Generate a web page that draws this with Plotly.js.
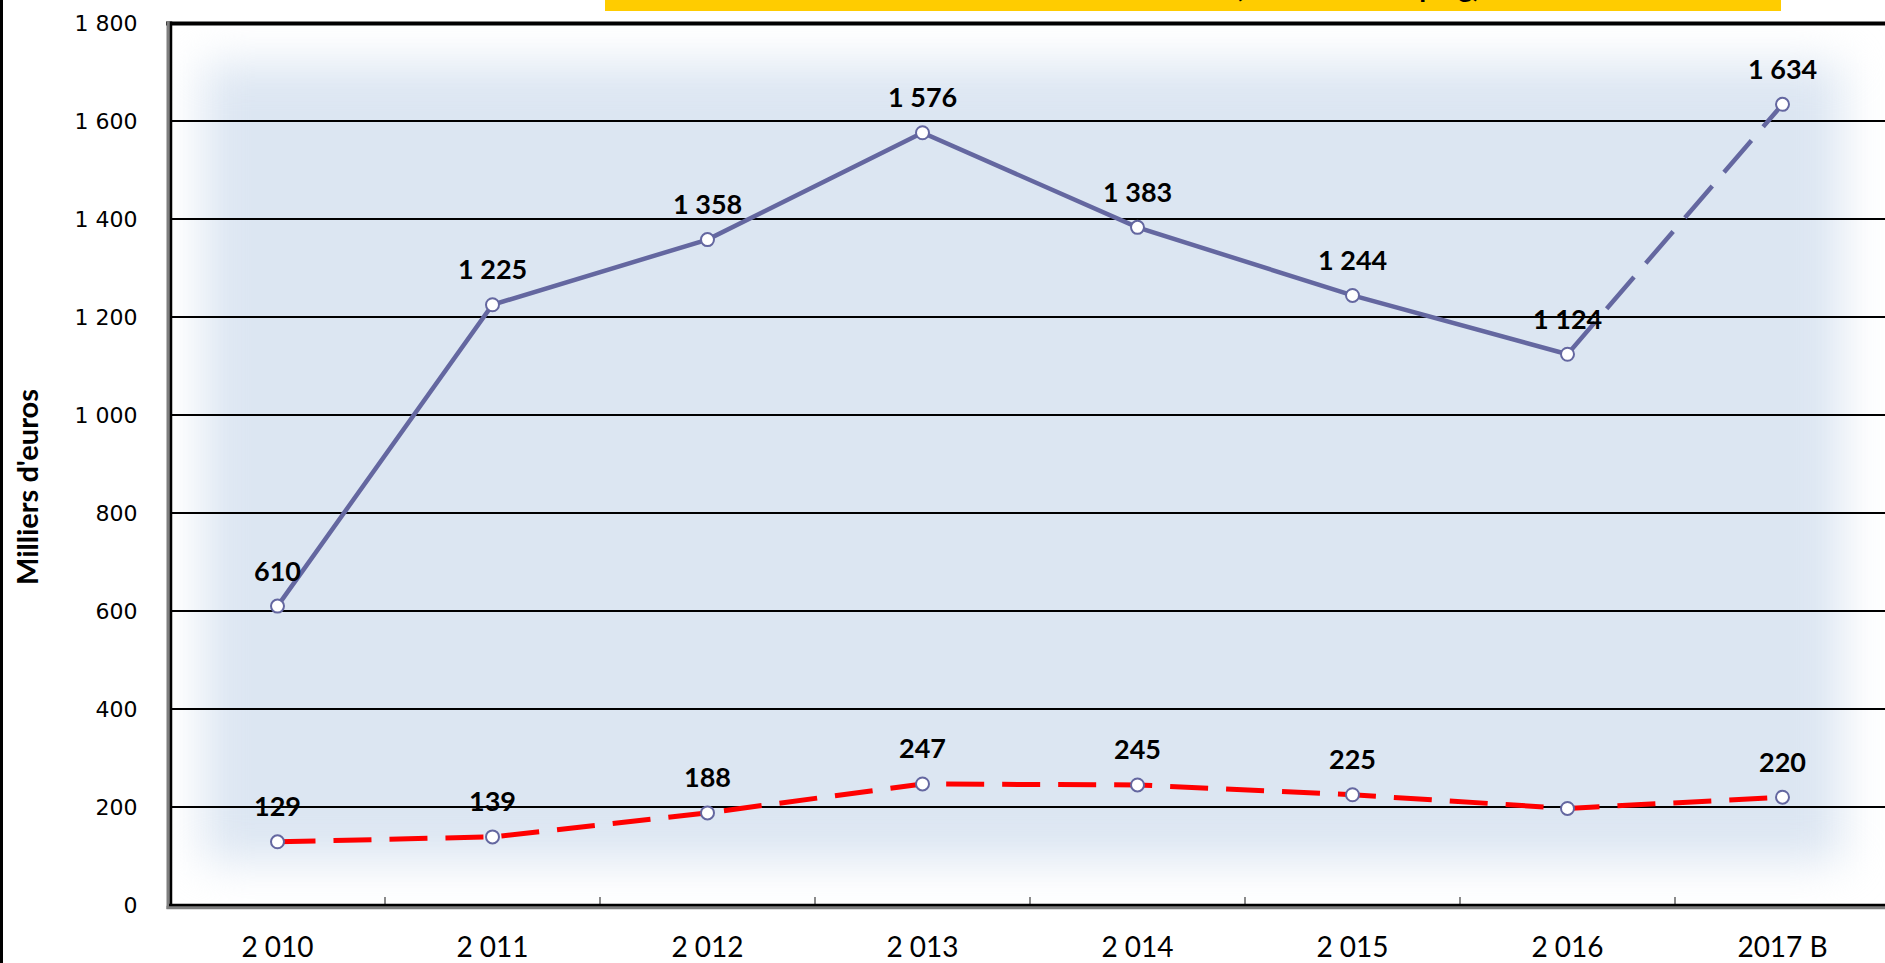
<!DOCTYPE html>
<html>
<head>
<meta charset="utf-8">
<script src="https://cdn.plot.ly/plotly-3.0.1.min.js"></script>
<style>html,body{margin:0;padding:0;background:#fff;overflow:hidden;}</style>
</head>
<body>
<div id="chart" style="width:1885px;height:963px;"></div>
<script>
// ---- data ----
const years = ['2 010', '2 011', '2 012', '2 013', '2 014', '2 015', '2 016', '2017 B'];
const blueValues = [610, 1225, 1358, 1576, 1383, 1244, 1124, 1634];
const redValues = [129, 139, 188, 247, 245, 225, 197, 220];
const redUnlabeled = ['2 016'];
const yAxisTitle = "Milliers d'euros";
const chartTitle = "Évolution des recettes (total hors camping)";

// ---- geometry helpers (pixel -> paper) ----
const W = 1885, H = 963, ML = 170, MR = 0, MT = 23, MB = 58;
const PW = W - ML - MR, PH = H - MT - MB;
const px = x => (x - ML) / PW;
const py = y => (H - MB - y) / PH;

const BLUE = 'rgb(100,103,160)';
const RED = '#ff0000';
const fmt = v => String(v).replace(/\B(?=(\d{3})+(?!\d))/g, ' ');

// soft blue background (blurred rectangle)
function makeBg() {
  const c = document.createElement('canvas');
  c.width = PW; c.height = PH;
  const ctx = c.getContext('2d');
  ctx.fillStyle = '#ffffff';
  ctx.fillRect(0, 0, PW, PH);
  ctx.filter = 'blur(22px)';
  ctx.fillStyle = '#DCE6F2';
  ctx.fillRect(33, 40, 1672 - 33, 839 - 40);
  return c.toDataURL('image/png');
}

const marker = {symbol: 'circle', size: 13, color: '#ffffff', line: {color: BLUE, width: 2}};

const traces = [
  {x: years.slice(0, 7), y: blueValues.slice(0, 7), type: 'scatter', mode: 'lines',
   line: {color: BLUE, width: 4.5}, hoverinfo: 'skip', showlegend: false},
  {x: years.slice(6), y: blueValues.slice(6), type: 'scatter', mode: 'lines',
   line: {color: BLUE, width: 4.5, dash: '42px,18px'}, hoverinfo: 'skip', showlegend: false},
  {x: years, y: redValues, type: 'scatter', mode: 'lines',
   line: {color: RED, width: 5, dash: '38px,18px'}, hoverinfo: 'skip', showlegend: false},
  {x: years, y: blueValues, type: 'scatter', mode: 'markers', marker: marker, showlegend: false},
  {x: years, y: redValues, type: 'scatter', mode: 'markers', marker: marker, showlegend: false}
];

const labelFont = {family: 'Lato', size: 27, color: '#000', weight: 'bold'};
const annotations = [];
years.forEach((yr, i) => {
  annotations.push({x: yr, y: blueValues[i], xref: 'x', yref: 'y', text: fmt(blueValues[i]),
    showarrow: false, yshift: 36, xanchor: 'center', yanchor: 'middle', font: labelFont});
  if (!redUnlabeled.includes(yr)) {
    annotations.push({x: yr, y: redValues[i], xref: 'x', yref: 'y', text: fmt(redValues[i]),
      showarrow: false, yshift: 36, xanchor: 'center', yanchor: 'middle', font: labelFont});
  }
});
annotations.push({x: px(26), y: py(487), xref: 'paper', yref: 'paper', text: yAxisTitle,
  textangle: -90, showarrow: false, xanchor: 'center', yanchor: 'middle',
  font: {family: 'Lato', size: 29, color: '#000', weight: 'bold'}});
annotations.push({x: px(1482), y: py(4), xref: 'paper', yref: 'paper', text: chartTitle,
  showarrow: false, xanchor: 'right', yanchor: 'bottom', borderpad: 0,
  font: {family: 'Lato', size: 28, color: '#000', weight: 'bold'}});

const shapes = [
  // yellow title box
  {type: 'rect', xref: 'paper', yref: 'paper', x0: px(605), x1: px(1781), y0: py(11), y1: py(-5),
   fillcolor: '#FFCC00', line: {width: 0}, layer: 'below'},
  // top border
  {type: 'line', xref: 'paper', yref: 'paper', x0: px(166), x1: px(W + 10), y0: py(23.5), y1: py(23.5),
   line: {color: '#000', width: 4}},
  // left border (double)
  {type: 'line', xref: 'paper', yref: 'paper', x0: px(168.5), x1: px(168.5), y0: py(21.5), y1: py(909),
   line: {color: '#7f7f7f', width: 4}},
  {type: 'line', xref: 'paper', yref: 'paper', x0: px(171), x1: px(171), y0: py(21.5), y1: py(906),
   line: {color: '#000', width: 2.5}},
  // bottom border (double)
  {type: 'line', xref: 'paper', yref: 'paper', x0: px(166.5), x1: px(W + 10), y0: py(907.5), y1: py(907.5),
   line: {color: '#7f7f7f', width: 3.5}},
  {type: 'line', xref: 'paper', yref: 'paper', x0: px(169), x1: px(W + 10), y0: py(905), y1: py(905),
   line: {color: '#000', width: 2.5}},
  // left edge of image
  {type: 'line', xref: 'paper', yref: 'paper', x0: px(1.5), x1: px(1.5), y0: py(-5), y1: py(H + 5),
   line: {color: '#000', width: 3}}
];

const layout = {
  width: W, height: H,
  margin: {l: ML, r: MR, t: MT, b: MB, pad: 0},
  paper_bgcolor: '#ffffff',
  plot_bgcolor: '#ffffff',
  separators: ', ',
  showlegend: false,
  xaxis: {
    type: 'category', range: [-0.5, -0.5 + PW / 215], fixedrange: true,
    showgrid: false, zeroline: false, showline: false,
    ticks: 'inside', tickson: 'boundaries', ticklen: 8, tickwidth: 1.5, tickcolor: '#8a8a8a',
    ticklabelstandoff: 23,
    tickfont: {family: 'Lato', size: 28, color: '#000'}
  },
  yaxis: {
    range: [0, 1800], tick0: 0, dtick: 200, fixedrange: true,
    showgrid: true, gridcolor: '#000', gridwidth: 2, zeroline: false, showline: false,
    separatethousands: true,
    ticks: 'outside', ticklen: 27, tickcolor: 'rgba(0,0,0,0)',
    tickfont: {family: 'DejaVu Sans', size: 22, color: '#000'}
  },
  images: [{source: makeBg(), xref: 'paper', yref: 'paper', x: 0, y: 1, sizex: 1, sizey: 1,
            sizing: 'stretch', xanchor: 'left', yanchor: 'top', layer: 'below'}],
  shapes: shapes,
  annotations: annotations
};

Plotly.newPlot('chart', traces, layout, {displayModeBar: false, staticPlot: true});
</script>
</body>
</html>
